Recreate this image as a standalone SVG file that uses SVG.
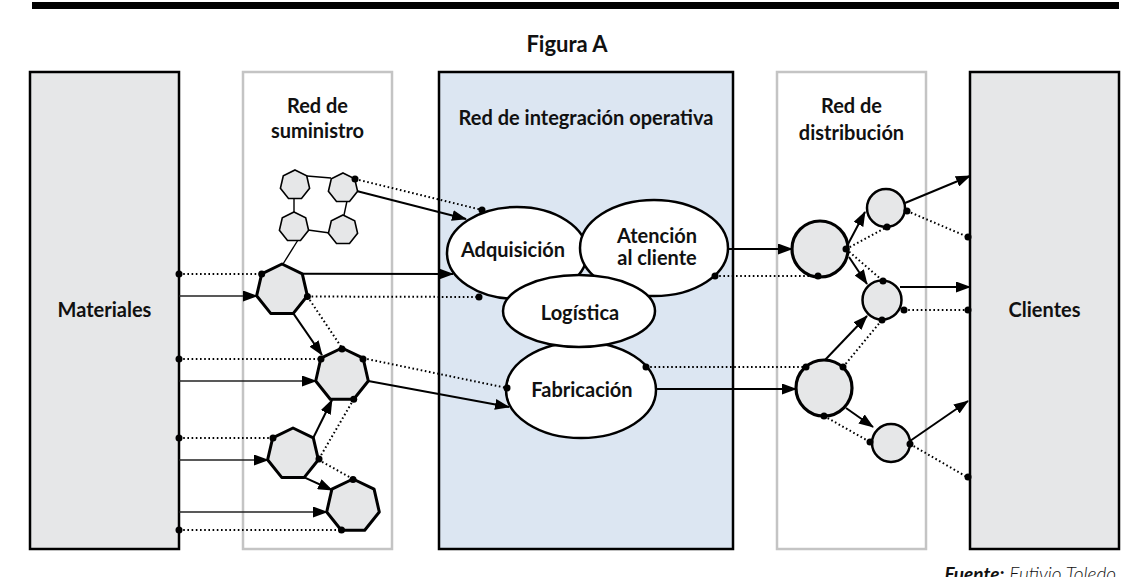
<svg xmlns="http://www.w3.org/2000/svg" width="1132" height="577" viewBox="0 0 1132 577">
  <defs>
    <marker id="arrow" markerUnits="userSpaceOnUse" markerWidth="15" markerHeight="11" refX="14" refY="5.5" orient="auto">
      <path d="M0,0 L15,5.5 L0,11 z" fill="#000"/>
    </marker>
    <style>
      text { font-family: Lato, "Open Sans", "Liberation Sans", sans-serif; fill: #111; }
      .lbl { font-size: 20px; font-weight: 700; text-anchor: middle; }
      .title { font-size: 22px; font-weight: 700; text-anchor: middle; }
      .panel-end { fill: #e6e7e8; stroke: #000; stroke-width: 2.5; }
      .panel-net { fill: #fff; stroke: #c4c4c4; stroke-width: 2.5; }
      .panel-mid { fill: #dce6f2; stroke: #000; stroke-width: 2.5; }
      .hept { fill: #e6e7e8; stroke: #000; stroke-width: 3; stroke-linejoin: round; }
      .hept-s { fill: #e6e7e8; stroke: #000; stroke-width: 1.6; }
      .proc { fill: #fff; stroke: #000; stroke-width: 2.5; }
      .node-l { fill: #e6e7e8; stroke: #000; stroke-width: 3.2; }
      .node-s { fill: #e6e7e8; stroke: #000; stroke-width: 2.5; }
      .flow { fill: none; stroke: #000; stroke-width: 2; }
      .flow-thin { fill: none; stroke: #222; stroke-width: 1.4; }
      .info { fill: none; stroke: #000; stroke-width: 2; stroke-dasharray: 1.6 2.6; }
      .link { fill: none; stroke: #000; stroke-width: 1.4; }
      .dot { fill: #000; }
    </style>
  </defs>

  <!-- header rule and title -->
  <rect x="32" y="2" width="1087" height="7" fill="#000"/>
  <text class="title" x="567" y="52">Figura A</text>

  <!-- panels -->
  <g id="materiales">
    <rect class="panel-end" x="30" y="72" width="149" height="477"/>
    <text class="lbl" x="104.5" y="317">Materiales</text>
  </g>
  <g id="red-suministro">
    <rect class="panel-net" x="243" y="72" width="149" height="477"/>
    <text class="lbl" x="317.5" y="113">Red de</text>
    <text class="lbl" x="317.5" y="138">suministro</text>
  </g>
  <g id="red-integracion">
    <rect class="panel-mid" x="439" y="72" width="294" height="477"/>
    <text class="lbl" x="586" y="125">Red de integración operativa</text>
  </g>
  <g id="red-distribucion">
    <rect class="panel-net" x="777" y="72" width="149" height="477"/>
    <text class="lbl" x="851.5" y="113">Red de</text>
    <text class="lbl" x="851.5" y="140">distribución</text>
  </g>
  <g id="clientes">
    <rect class="panel-end" x="970" y="72" width="149" height="477"/>
    <text class="lbl" x="1044.5" y="317">Clientes</text>
  </g>

  <!-- connectors -->
  <g id="connectors">
    <!-- small supplier cluster links -->
    <line class="link" x1="307" y1="176" x2="331" y2="178"/>
    <line class="link" x1="294" y1="199" x2="294" y2="213"/>
    <line class="link" x1="347" y1="201" x2="344" y2="215"/>
    <line class="link" x1="308" y1="230" x2="330" y2="233"/>
    <line class="link" x1="298" y1="240" x2="283" y2="264"/>

    <!-- cluster to adquisicion -->
    <line class="info" x1="355" y1="179" x2="482" y2="210"/>
    <line class="flow" x1="357.6" y1="191.3" x2="466" y2="219" marker-end="url(#arrow)"/>

    <!-- materiales to supplier tier -->
    <line class="info" x1="179" y1="274" x2="261.7" y2="274"/>
    <line class="flow-thin" x1="179" y1="296" x2="257" y2="296" marker-end="url(#arrow)"/>
    <line class="info" x1="179" y1="359" x2="321" y2="359"/>
    <line class="flow-thin" x1="179" y1="381" x2="316" y2="381" marker-end="url(#arrow)"/>
    <line class="info" x1="179" y1="438" x2="272.7" y2="438"/>
    <line class="flow-thin" x1="179" y1="460" x2="268" y2="460" marker-end="url(#arrow)"/>
    <line class="flow-thin" x1="179" y1="512" x2="327" y2="512" marker-end="url(#arrow)"/>
    <line class="info" x1="179" y1="530" x2="341.3" y2="530"/>

    <!-- supplier tier internal flows -->
    <line class="flow" x1="302.3" y1="273.8" x2="453" y2="274" marker-end="url(#arrow)"/>
    <line class="info" x1="307.4" y1="296.5" x2="479" y2="297"/>
    <line class="flow" x1="293.3" y1="313.4" x2="322" y2="355" marker-end="url(#arrow)"/>
    <line class="info" x1="307.4" y1="296.5" x2="342" y2="348"/>
    <line class="info" x1="363.1" y1="358.2" x2="507" y2="388"/>
    <line class="flow" x1="368.3" y1="381" x2="509" y2="407" marker-end="url(#arrow)"/>
    <line class="info" x1="353.7" y1="399.3" x2="318.4" y2="459.8"/>
    <line class="flow" x1="313.3" y1="437.8" x2="332" y2="400" marker-end="url(#arrow)"/>
    <line class="flow" x1="304.3" y1="477.4" x2="332" y2="490" marker-end="url(#arrow)"/>
    <line class="info" x1="318.4" y1="459.8" x2="353" y2="479"/>

    <!-- integration to distribution -->
    <line class="flow" x1="728" y1="249" x2="792" y2="249" marker-end="url(#arrow)"/>
    <line class="info" x1="715" y1="276" x2="818" y2="276"/>
    <line class="info" x1="646" y1="367" x2="806" y2="367"/>
    <line class="flow" x1="656" y1="389" x2="796" y2="389" marker-end="url(#arrow)"/>

    <!-- distribution internal flows -->
    <line class="flow" x1="847" y1="246" x2="865" y2="212" marker-end="url(#arrow)"/>
    <line class="info" x1="846" y1="249" x2="887" y2="227"/>
    <line class="flow" x1="849" y1="257" x2="867" y2="284" marker-end="url(#arrow)"/>
    <line class="info" x1="846" y1="249" x2="883" y2="281"/>
    <line class="flow" x1="825" y1="360" x2="867" y2="316" marker-end="url(#arrow)"/>
    <line class="info" x1="843" y1="367" x2="882" y2="320"/>
    <line class="flow" x1="846" y1="408" x2="873" y2="427" marker-end="url(#arrow)"/>
    <line class="info" x1="824" y1="416" x2="870" y2="442"/>

    <!-- distribution to clientes -->
    <line class="flow" x1="905" y1="203" x2="970" y2="176" marker-end="url(#arrow)"/>
    <line class="info" x1="907" y1="211" x2="968" y2="237"/>
    <line class="flow" x1="900" y1="287" x2="970" y2="287" marker-end="url(#arrow)"/>
    <line class="info" x1="904" y1="310" x2="968" y2="310"/>
    <line class="flow" x1="910" y1="441" x2="968" y2="401" marker-end="url(#arrow)"/>
    <line class="info" x1="910" y1="444" x2="967" y2="477"/>
  </g>

  <!-- supplier cluster (small heptagons) -->
  <g id="proveedor-1"><polygon class="hept-s" points="295,170 306.7,175.7 309.6,188.3 301.5,198.5 288.5,198.5 280.4,188.3 283.3,175.7"/></g>
  <g id="proveedor-2"><polygon class="hept-s" points="343,173 354.7,178.7 357.6,191.3 349.5,201.5 336.5,201.5 328.4,191.3 331.3,178.7"/></g>
  <g id="proveedor-3"><polygon class="hept-s" points="294,212 305.7,217.7 308.6,230.3 300.5,240.5 287.5,240.5 279.4,230.3 282.3,217.7"/></g>
  <g id="proveedor-4"><polygon class="hept-s" points="343,215 354.7,220.7 357.6,233.3 349.5,243.5 336.5,243.5 328.4,233.3 331.3,220.7"/></g>

  <!-- supplier tier (large heptagons) -->
  <g id="proveedor-a"><polygon class="hept" points="282,264 302.3,273.8 307.4,295.8 293.3,313.4 270.7,313.4 256.6,295.8 261.7,273.8"/></g>
  <g id="proveedor-b"><polygon class="hept" points="342,348 363.1,358.2 368.3,381 353.7,399.3 330.3,399.3 315.7,381 320.9,358.2"/></g>
  <g id="proveedor-c"><polygon class="hept" points="293,428 313.3,437.8 318.4,459.8 304.3,477.4 281.7,477.4 267.6,459.8 272.7,437.8"/></g>
  <g id="proveedor-d"><polygon class="hept" points="353,479 374.1,489.2 379.3,512 364.7,530.3 341.3,530.3 326.7,512 331.9,489.2"/></g>

  <!-- integration processes -->
  <g id="adquisicion">
    <ellipse class="proc" cx="517" cy="253" rx="70" ry="46"/>
    <text class="lbl" x="513" y="257">Adquisición</text>
  </g>
  <g id="atencion">
    <ellipse class="proc" cx="654" cy="248" rx="74" ry="48"/>
    <text class="lbl" x="657" y="243">Atención</text>
    <text class="lbl" x="657" y="265">al cliente</text>
  </g>
  <g id="fabricacion">
    <ellipse class="proc" cx="581" cy="390" rx="75" ry="48"/>
    <text class="lbl" x="582" y="397">Fabricación</text>
  </g>
  <g id="logistica">
    <ellipse class="proc" cx="579" cy="311" rx="76" ry="36"/>
    <text class="lbl" x="580" y="320">Logística</text>
  </g>

  <!-- distribution nodes -->
  <g id="centro-1"><circle class="node-l" cx="820" cy="249" r="28"/></g>
  <g id="centro-2"><circle class="node-l" cx="824" cy="388" r="28"/></g>
  <g id="punto-a"><circle class="node-s" cx="886" cy="208" r="19"/></g>
  <g id="punto-b"><circle class="node-s" cx="882" cy="300" r="19.5"/></g>
  <g id="punto-c"><circle class="node-s" cx="891" cy="443" r="19"/></g>

  <!-- connection dots -->
  <g id="dots">
    <circle class="dot" cx="179" cy="274" r="3.5"/>
    <circle class="dot" cx="179" cy="359" r="3.5"/>
    <circle class="dot" cx="179" cy="438" r="3.5"/>
    <circle class="dot" cx="179" cy="530" r="3.5"/>
    <circle class="dot" cx="355" cy="179" r="3.5"/>
    <circle class="dot" cx="261.7" cy="274" r="3.5"/>
    <circle class="dot" cx="307.4" cy="296.5" r="3.5"/>
    <circle class="dot" cx="342" cy="349" r="3.5"/>
    <circle class="dot" cx="321" cy="359" r="3.5"/>
    <circle class="dot" cx="363" cy="359" r="3.5"/>
    <circle class="dot" cx="353.7" cy="399.3" r="3.5"/>
    <circle class="dot" cx="273" cy="438" r="3.5"/>
    <circle class="dot" cx="319" cy="459" r="3.5"/>
    <circle class="dot" cx="353" cy="479.5" r="3.5"/>
    <circle class="dot" cx="341.5" cy="530" r="3.5"/>
    <circle class="dot" cx="482" cy="210" r="3.5"/>
    <circle class="dot" cx="479" cy="297" r="3.5"/>
    <circle class="dot" cx="507" cy="388" r="3.5"/>
    <circle class="dot" cx="715" cy="276" r="3.5"/>
    <circle class="dot" cx="646" cy="367" r="3.5"/>
    <circle class="dot" cx="818" cy="276" r="3.5"/>
    <circle class="dot" cx="846" cy="249" r="3.5"/>
    <circle class="dot" cx="806" cy="367" r="3.5"/>
    <circle class="dot" cx="843" cy="367" r="3.5"/>
    <circle class="dot" cx="824" cy="416" r="3.5"/>
    <circle class="dot" cx="887" cy="227" r="3.5"/>
    <circle class="dot" cx="907" cy="211" r="3.5"/>
    <circle class="dot" cx="883" cy="281" r="3.5"/>
    <circle class="dot" cx="904" cy="310" r="3.5"/>
    <circle class="dot" cx="882" cy="320" r="3.5"/>
    <circle class="dot" cx="870" cy="442" r="3.5"/>
    <circle class="dot" cx="910" cy="444" r="3.5"/>
    <circle class="dot" cx="968" cy="237" r="3.5"/>
    <circle class="dot" cx="968" cy="310" r="3.5"/>
    <circle class="dot" cx="968" cy="477" r="3.5"/>
  </g>

  <!-- source credit -->
  <text x="1116" y="581" text-anchor="end" font-size="19" font-style="italic"><tspan font-weight="700">Fuente:</tspan><tspan font-weight="300"> Eutivio Toledo</tspan></text>
</svg>
